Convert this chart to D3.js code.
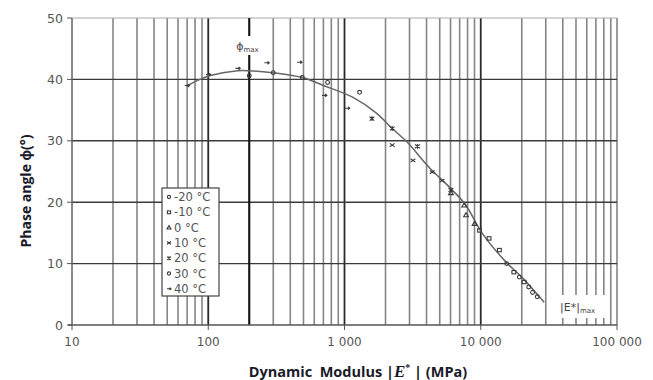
<!DOCTYPE html>
<html>
<head>
<meta charset="utf-8">
<script src="https://cdn.jsdelivr.net/npm/d3@7"></script>
<style>
  body { margin: 0; background: #fff; }
  svg { display: block; }
</style>
</head>
<body>
<svg id="chart" width="653" height="380"></svg>
<script>
// master curve (modulus MPa, phase angle deg)
const curveModulus = [69, 87, 102, 164, 200, 296, 491, 700, 1146, 1714, 2240, 2880, 4170, 6170, 7780, 10200, 15400, 20000, 29200];
const curvePhase = [38.9, 40.0, 40.6, 41.4, 41.4, 41.1, 40.3, 39.0, 37.1, 34.5, 32.0, 29.8, 25.7, 22.0, 19.5, 15.0, 10.2, 7.8, 3.7];

const temperatures = ['-20 °C', '-10 °C', '0 °C', '10 °C', '20 °C', '30 °C', '40 °C'];
const markerTypes = ['circle', 'square', 'triangle', 'x', 'asterisk', 'circle', 'dash'];

// measured points per temperature: [modulus, phase]
const points = [
  [[15500, 10.0], [19200, 7.8], [22500, 6.2], [24000, 5.3], [26000, 4.6]],
  [[9800, 15.4], [11500, 14.1], [13700, 12.2], [17500, 8.6], [20800, 7.0]],
  [[6040, 21.5], [7560, 19.5], [7800, 17.9], [9000, 16.5]],
  [[2240, 29.3], [3180, 26.8], [4400, 24.9], [5200, 23.5]],
  [[1590, 33.6], [2240, 32.0], [3430, 29.1], [6040, 22.0]],
  [[200, 40.6], [300, 41.1], [490, 40.3], [751, 39.5], [1290, 37.9]],
  [[70, 39.0], [100, 40.8], [165, 41.8], [269, 42.7], [468, 42.8], [713, 37.4], [1050, 35.3]]
];

const xTicks = [10, 100, 1000, 10000, 100000];
const xTickLabels = ['10', '100', '1 000', '10 000', '100 000'];
const yTicks = [0, 10, 20, 30, 40, 50];
const phiMaxModulus = 200;

const svg = d3.select('#chart');
const plotLeft = 72, plotRight = 617, plotTop = 18, plotBottom = 325;

const x = d3.scaleLog().domain([10, 100000]).range([plotLeft, plotRight]);
const y = d3.scaleLinear().domain([0, 50]).range([plotBottom, plotTop]);

// vertical log grid
const minor = [];
for (let d = 10; d < 100000; d *= 10) {
  for (let k = 1; k <= 9; k++) minor.push(k * d);
}
minor.push(100000);
const isMajor = d => d > 10 && d < 100000 && Math.abs(Math.log10(d) % 1) < 1e-9;

svg.append('g')
  .selectAll('line')
  .data(minor)
  .join('line')
  .attr('x1', d => x(d)).attr('x2', d => x(d))
  .attr('y1', plotTop).attr('y2', plotBottom)
  .attr('stroke', d => (isMajor(d) ? '#2a2a2a' : '#858585'))
  .attr('stroke-width', d => (isMajor(d) ? 1.8 : 1.6));

// horizontal grid
svg.append('g')
  .selectAll('line')
  .data(yTicks.filter(d => d > 0))
  .join('line')
  .attr('x1', plotLeft).attr('x2', plotRight)
  .attr('y1', d => y(d)).attr('y2', d => y(d))
  .attr('stroke', d => (d === 50 ? '#aaa' : '#3a3a3a'))
  .attr('stroke-width', d => (d === 50 ? 1 : 1.4));

// phi max line
svg.append('line')
  .attr('x1', x(phiMaxModulus)).attr('x2', x(phiMaxModulus))
  .attr('y1', plotTop).attr('y2', plotBottom)
  .attr('stroke', '#111').attr('stroke-width', 2);
svg.append('rect')
  .attr('x', x(phiMaxModulus) - 14).attr('y', 36)
  .attr('width', 30).attr('height', 19)
  .attr('fill', '#fff');
const phiLabel = svg.append('text')
  .attr('x', x(phiMaxModulus) - 13).attr('y', 50)
  .attr('font-family', 'DejaVu Sans, sans-serif')
  .attr('font-size', 11).attr('fill', '#444');
phiLabel.append('tspan').text('ϕ');
phiLabel.append('tspan').attr('font-size', 7).attr('dy', 2).text('max');

// |E*|max label
svg.append('rect')
  .attr('x', 555).attr('y', 295)
  .attr('width', 52).attr('height', 23)
  .attr('fill', '#fff');
const eLabel = svg.append('text')
  .attr('x', 560).attr('y', 311)
  .attr('font-family', 'DejaVu Sans, sans-serif')
  .attr('font-size', 11).attr('fill', '#444');
eLabel.append('tspan').text('|E*|');
eLabel.append('tspan').attr('font-size', 7).attr('dy', 2).text('max');

// axes lines
svg.append('line')
  .attr('x1', plotLeft).attr('x2', plotLeft).attr('y1', plotTop).attr('y2', plotBottom)
  .attr('stroke', '#777').attr('stroke-width', 1);
svg.append('line')
  .attr('x1', plotLeft - 4).attr('x2', plotRight).attr('y1', plotBottom).attr('y2', plotBottom)
  .attr('stroke', '#555').attr('stroke-width', 1.3);

// y ticks
const yAxis = svg.append('g');
yAxis.selectAll('line')
  .data(yTicks)
  .join('line')
  .attr('x1', plotLeft - 5).attr('x2', plotLeft)
  .attr('y1', d => y(d)).attr('y2', d => y(d))
  .attr('stroke', '#555');
yAxis.selectAll('text')
  .data(yTicks)
  .join('text')
  .attr('x', plotLeft - 9).attr('y', d => y(d) + 4.5)
  .attr('text-anchor', 'end')
  .attr('font-family', 'DejaVu Sans, sans-serif')
  .attr('font-size', 12.5).attr('fill', '#555')
  .text(d => d);

// x ticks
const xAxis = svg.append('g');
xAxis.selectAll('line')
  .data(xTicks)
  .join('line')
  .attr('x1', d => x(d)).attr('x2', d => x(d))
  .attr('y1', plotBottom).attr('y2', plotBottom + 5)
  .attr('stroke', '#555');
xAxis.selectAll('text')
  .data(xTicks)
  .join('text')
  .attr('x', d => x(d)).attr('y', plotBottom + 21)
  .attr('text-anchor', 'middle')
  .attr('font-family', 'DejaVu Sans, sans-serif')
  .attr('font-size', 12).attr('fill', '#555')
  .text((d, i) => xTickLabels[i]);

// master curve
const curveData = curveModulus.map((m, i) => [m, curvePhase[i]]);
svg.append('path')
  .datum(curveData)
  .attr('d', d3.line().x(d => x(d[0])).y(d => y(d[1])).curve(d3.curveCatmullRom))
  .attr('fill', 'none')
  .attr('stroke', '#666')
  .attr('stroke-width', 1.5);

// markers
function drawMarker(g, type, cx, cy, s) {
  let el;
  if (type === 'circle') {
    el = g.append('circle').attr('cx', cx).attr('cy', cy).attr('r', s * 0.8);
  } else if (type === 'square') {
    el = g.append('rect').attr('x', cx - s * 0.8).attr('y', cy - s * 0.7).attr('width', s * 1.6).attr('height', s * 1.4);
  } else if (type === 'triangle') {
    el = g.append('path').attr('d', `M${cx},${cy - s}L${cx + s},${cy + s * 0.7}L${cx - s},${cy + s * 0.7}Z`);
  } else if (type === 'x') {
    el = g.append('path').attr('d', `M${cx - s},${cy - s * 0.7}L${cx + s},${cy + s * 0.7}M${cx - s},${cy + s * 0.7}L${cx + s},${cy - s * 0.7}`);
  } else if (type === 'asterisk') {
    el = g.append('path').attr('d', `M${cx - s},${cy - s * 0.8}L${cx + s},${cy + s * 0.8}M${cx - s},${cy + s * 0.8}L${cx + s},${cy - s * 0.8}M${cx},${cy - s}L${cx},${cy + s}`);
  } else {
    el = g.append('path').attr('d', `M${cx - s},${cy}L${cx + s},${cy}M${cx + s * 0.3},${cy - s * 0.6}L${cx + s},${cy}L${cx + s * 0.3},${cy + s * 0.6}`);
  }
  el.attr('stroke', '#3a3a3a').attr('stroke-width', 1.1).attr('fill', 'none');
}

const pts = svg.append('g');
points.forEach((series, i) => {
  series.forEach(p => drawMarker(pts, markerTypes[i], x(p[0]), y(p[1]), 2.4));
});

// legend
const lg = svg.append('g');
lg.append('rect')
  .attr('x', 162).attr('y', 188)
  .attr('width', 57).attr('height', 108)
  .attr('fill', '#fff').attr('stroke', '#444').attr('stroke-width', 1.2);
temperatures.forEach((t, i) => {
  const yy = 197 + i * 15.3;
  drawMarker(lg, markerTypes[i], 169, yy, 2);
  lg.append('text')
    .attr('x', 174).attr('y', yy + 4)
    .attr('font-family', 'DejaVu Sans, sans-serif')
    .attr('font-size', 11.5).attr('fill', '#555')
    .text(t);
});

// axis titles
svg.append('text')
  .attr('transform', 'translate(31,191) rotate(-90)')
  .attr('text-anchor', 'middle')
  .attr('font-family', 'Open Sans, sans-serif')
  .attr('font-weight', 'bold')
  .attr('font-size', 14).attr('fill', '#1a1a2a')
  .text('Phase angle ϕ(°)');

const xt = svg.append('text')
  .attr('x', 358).attr('y', 377)
  .attr('text-anchor', 'middle')
  .attr('font-family', 'Open Sans, sans-serif')
  .attr('font-weight', 'bold')
  .attr('font-size', 14.5).attr('fill', '#1a1a2a')
  .attr('xml:space', 'preserve');
xt.append('tspan').text('Dynamic  Modulus |');
xt.append('tspan').attr('font-family', 'Liberation Serif, serif').attr('font-style', 'italic').attr('font-size', 17).text('E');
xt.append('tspan').attr('font-family', 'Liberation Serif, serif').attr('font-size', 10).attr('dy', -6).text('*');
xt.append('tspan').attr('dy', 6).text(' | (MPa)');
</script>
</body>
</html>
